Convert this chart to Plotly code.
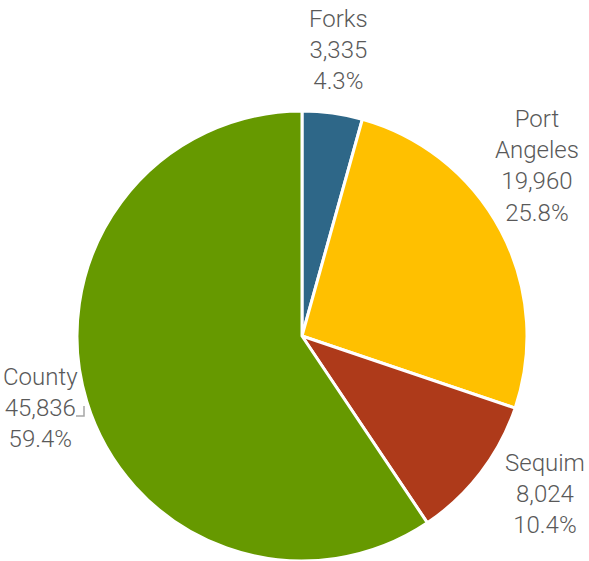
import plotly.graph_objects as go

categories = ["Forks", "Port Angeles", "Sequim", "County"]
values = [3335, 19960, 8024, 45836]
pct_labels = ["4.3%", "25.8%", "10.4%", "59.4%"]
label_names = ["Forks", "Port<br>Angeles", "Sequim", "County"]
colors = ["#2E6788", "#FFC000", "#AE3A1A", "#669900"]

W, H = 589, 561
cx, cy, r = 302, 336, 225

fig = go.Figure(go.Pie(
    labels=categories, values=values, sort=False, direction="clockwise",
    rotation=0, marker=dict(colors=colors, line=dict(color="white", width=3)),
    textinfo="none", hoverinfo="label+value+percent", showlegend=False,
    domain=dict(x=[(cx - r) / W, (cx + r) / W],
                y=[max(0.0, 1 - (cy + r) / H), min(1.0, 1 - (cy - r) / H)]),
))

# label anchor positions in pixels (text centers)
label_pos = [(338, 50), (537, 166), (545, 494), (40, 408)]
font = dict(family="Roboto", size=24, color="#595959", weight=300)
for name, v, p, (x, y) in zip(label_names, values, pct_labels, label_pos):
    fig.add_annotation(x=x / W, y=1 - y / H, xref="paper", yref="paper",
                       text=f"{name}<br>{v:,}<br>{p}", showarrow=False,
                       font=font, align="center", xanchor="center", yanchor="middle")

# leader line for County
fig.add_shape(type="path", xref="paper", yref="paper",
              path=f"M {76/W} {1-416/H} L {84/W} {1-416/H} L {84/W} {1-406/H}",
              line=dict(color="#A6A6A6", width=1.5))

fig.update_layout(width=W, height=H, margin=dict(l=0, r=0, t=0, b=0),
                  paper_bgcolor="white", plot_bgcolor="white")
fig.write_html("out.html", config={"displayModeBar": False},
               post_script="document.body.style.margin='0';")
